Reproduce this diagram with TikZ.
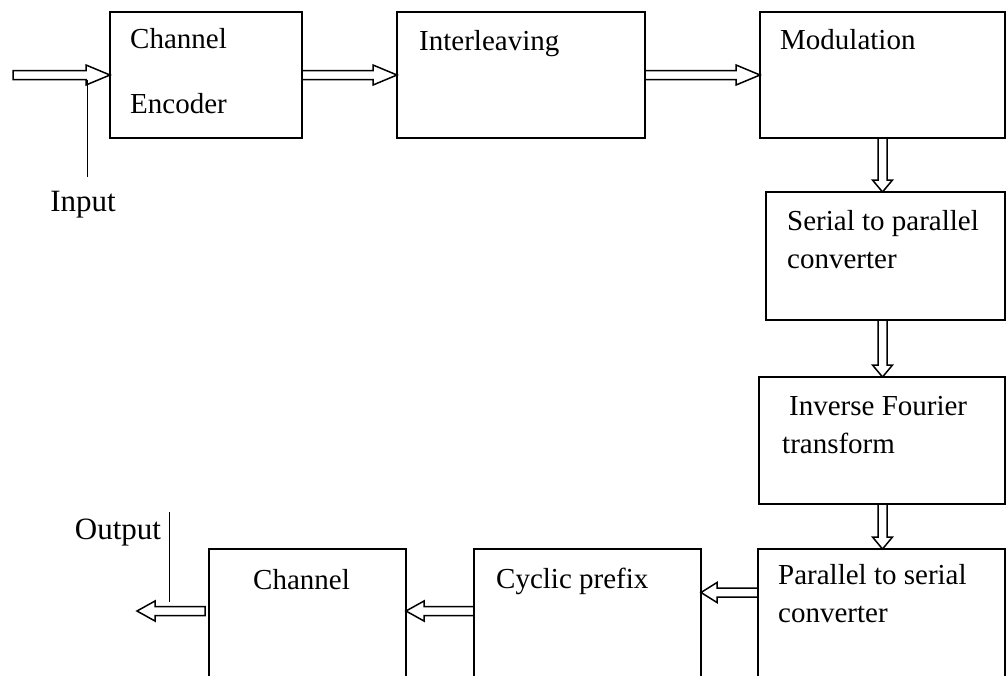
\documentclass[tikz,border=0pt]{standalone}
\usepackage{fontspec}
\setmainfont{Liberation Serif}
\usetikzlibrary{positioning,calc}

\begin{document}
\begin{tikzpicture}[x=1pt, y=-1pt,
  box/.style={draw, line width=1.5pt, anchor=north west, inner sep=0pt, outer sep=0pt},
  txt/.style={font=\fontsize{29}{38}\selectfont, align=left, inner sep=0pt, anchor=base west},
  side/.style={font=\fontsize{31}{36}\selectfont, inner sep=0pt, anchor=base},
  lead/.style={line width=1pt},
  blockarr/.style={draw, line width=1.5pt, line join=miter, to path={
      ($(\tikztostart)!4.5pt!90:(\tikztotarget)$) --
      ($(\tikztotarget)!#1!(\tikztostart)!4.5pt!-90:(\tikztostart)$) --
      ($(\tikztotarget)!#1!(\tikztostart)!10pt!-90:(\tikztostart)$) --
      (\tikztotarget) --
      ($(\tikztotarget)!#1!(\tikztostart)!10pt!90:(\tikztostart)$) --
      ($(\tikztotarget)!#1!(\tikztostart)!4.5pt!90:(\tikztostart)$) --
      ($(\tikztostart)!4.5pt!-90:(\tikztotarget)$) -- cycle}}
]
  \path[use as bounding box, fill=white] (0,0) rectangle (1006,675);

  % Top row (base of a text node = its last line)
  \node[box, minimum width=192pt, minimum height=126pt] (enc) at (110,12) {};
  \node[txt] (enctxt) at ([xshift=20pt, yshift=-101pt]enc.north west) {Channel\\[27pt]Encoder};

  \node[box, minimum width=248pt, minimum height=126pt] (inter) at (397,12) {};
  \node[txt] (intertxt) at ([xshift=22pt, yshift=-38pt]inter.north west) {Interleaving};

  \node[box, minimum width=245pt, minimum height=126pt] (mod) at (760,12) {};
  \node[txt] (modtxt) at ([xshift=20pt, yshift=-37pt]mod.north west) {Modulation};

  % Right column
  \node[box, minimum width=239pt, minimum height=128pt] (s2p) at (766,192) {};
  \node[txt] (s2ptxt) at ([xshift=21pt, yshift=-76pt]s2p.north west) {Serial to parallel\\converter};

  \node[box, minimum width=246pt, minimum height=127pt] (ift) at (759,377) {};
  \node[txt] (ifttxt) at ([xshift=23pt, yshift=-76pt]ift.north west) {\hspace{7pt}Inverse Fourier\\transform};

  % Bottom row (cut off by the page edge)
  \node[box, minimum width=247pt, minimum height=160pt] (p2s) at (758,549) {};
  \node[txt] (p2stxt) at ([xshift=20pt, yshift=-73pt]p2s.north west) {Parallel to serial\\converter};

  \node[box, minimum width=227pt, minimum height=160pt] (cyc) at (474,549) {};
  \node[txt] (cyctxt) at ([xshift=22pt, yshift=-39pt]cyc.north west) {Cyclic prefix};

  \node[box, minimum width=197pt, minimum height=160pt] (chan) at (209,549) {};
  \node[txt] (chantxt) at ([xshift=44pt, yshift=-40pt]chan.north west) {Channel};

  % Input and output
  \coordinate (inp) at (13,75);
  \coordinate (injoin) at (87,79.5);
  \node[side] (inlbl) at (83,211) {Input};
  \coordinate (outtip) at (137,611);
  \coordinate (outjoin) at (169,606);
  \node[side] (outlbl) at (118,539) {Output};

  % Block arrows
  \draw[blockarr=24pt] (inp) to (enc.west);
  \draw[blockarr=24pt] (enc.east) to (inter.west);
  \draw[blockarr=24pt] (inter.east) to (mod.west);
  \draw[blockarr=12pt] (mod.south) to (mod.south |- s2p.north);
  \draw[blockarr=12pt] (mod.south |- s2p.south) to (mod.south |- ift.north);
  \draw[blockarr=12pt] (mod.south |- ift.south) to (mod.south |- p2s.north);
  \draw[blockarr=16pt] ([yshift=-43.5pt]p2s.north west) to ([yshift=-43.5pt]p2s.north west -| cyc.east);
  \draw[blockarr=18pt] ([yshift=-62pt]cyc.north west) to ([yshift=-62pt]cyc.north west -| chan.east);
  \draw[blockarr=18pt] ([xshift=-4pt]outtip -| chan.west) to (outtip);

  % Leader lines
  \draw[lead] (injoin) -- ([yshift=14pt]injoin |- inlbl.north);
  \draw[lead] ([yshift=4pt]outjoin) -- ([yshift=6.5pt]outjoin |- outlbl.north);
\end{tikzpicture}
\end{document}
